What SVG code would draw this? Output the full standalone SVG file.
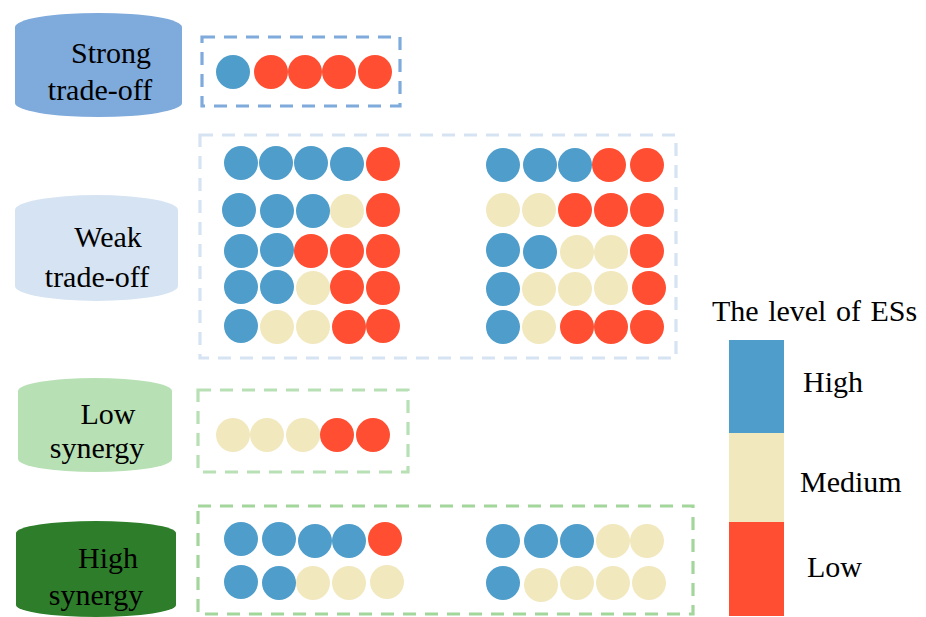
<svg xmlns="http://www.w3.org/2000/svg" width="926" height="617" viewBox="0 0 926 617">
<style>
.t{font-family:'Liberation Serif','Times New Roman',serif;font-size:30px;fill:#000}
.c{text-anchor:middle}
.b{fill:#4F9DCB}
.m{fill:#F2E8BE}
.r{fill:#FF4E31}
.box{fill:none;stroke-width:3.2;stroke-dasharray:13 9}
</style>
<rect width="926" height="617" fill="#fff"/>

<g id="strong-tradeoff">
<path d="M15,27 A83.5,14 0 0 1 182,27 L182,103 A83.5,14 0 0 1 15,103 Z" fill="#7FAADC"/>
<text class="t c" x="111" y="63">Strong</text>
<text class="t c" x="100" y="100">trade-off</text>
</g>
<g id="strong-group">
<rect class="box" x="202" y="37" width="198" height="69" stroke="#7FAADC"/>
<circle class="b" cx="233" cy="72" r="17"/>
<circle class="r" cx="271" cy="72" r="17"/>
<circle class="r" cx="305" cy="72" r="17"/>
<circle class="r" cx="339" cy="72" r="17"/>
<circle class="r" cx="375" cy="72" r="17"/>
</g>

<g id="weak-tradeoff">
<path d="M15,210 A81.5,15 0 0 1 178,210 L178,286 A81.5,15 0 0 1 15,286 Z" fill="#D5E3F2"/>
<text class="t c" x="108" y="247">Weak</text>
<text class="t c" x="97" y="287">trade-off</text>
</g>
<g id="weak-group">
<rect class="box" x="200" y="135" width="476" height="223" stroke="#D5E3F2"/>
<circle class="b" cx="241" cy="163" r="17"/><circle class="b" cx="276" cy="163" r="17"/><circle class="b" cx="311" cy="163" r="17"/><circle class="b" cx="347" cy="164" r="17"/><circle class="r" cx="383" cy="164" r="17"/>
<circle class="b" cx="239" cy="210" r="17"/><circle class="b" cx="277" cy="211" r="17"/><circle class="b" cx="313" cy="211" r="17"/><circle class="m" cx="347" cy="211" r="17"/><circle class="r" cx="383" cy="210" r="17"/>
<circle class="b" cx="241" cy="251" r="17"/><circle class="b" cx="277" cy="250" r="17"/><circle class="r" cx="311" cy="251" r="17"/><circle class="r" cx="347" cy="251" r="17"/><circle class="r" cx="383" cy="251" r="17"/>
<circle class="b" cx="241" cy="287" r="17"/><circle class="b" cx="277" cy="287" r="17"/><circle class="m" cx="313" cy="288" r="17"/><circle class="r" cx="347" cy="287" r="17"/><circle class="r" cx="383" cy="288" r="17"/>
<circle class="b" cx="241" cy="326" r="17"/><circle class="m" cx="277" cy="327" r="17"/><circle class="m" cx="313" cy="327" r="17"/><circle class="r" cx="349" cy="327" r="17"/><circle class="r" cx="383" cy="326" r="17"/>
<circle class="b" cx="503" cy="165" r="17"/><circle class="b" cx="540" cy="165" r="17"/><circle class="b" cx="575" cy="165" r="17"/><circle class="r" cx="609" cy="165" r="17"/><circle class="r" cx="647" cy="165" r="17"/>
<circle class="m" cx="503" cy="210" r="17"/><circle class="m" cx="539" cy="210" r="17"/><circle class="r" cx="575" cy="210" r="17"/><circle class="r" cx="611" cy="210" r="17"/><circle class="r" cx="647" cy="210" r="17"/>
<circle class="b" cx="503" cy="250" r="17"/><circle class="b" cx="540" cy="252" r="17"/><circle class="m" cx="577" cy="252" r="17"/><circle class="m" cx="611" cy="252" r="17"/><circle class="r" cx="647" cy="251" r="17"/>
<circle class="b" cx="503" cy="289" r="17"/><circle class="m" cx="539" cy="289" r="17"/><circle class="m" cx="575" cy="289" r="17"/><circle class="m" cx="611" cy="288" r="17"/><circle class="r" cx="649" cy="288" r="17"/>
<circle class="b" cx="503" cy="327" r="17"/><circle class="m" cx="539" cy="327" r="17"/><circle class="r" cx="577" cy="327" r="17"/><circle class="r" cx="611" cy="327" r="17"/><circle class="r" cx="647" cy="327" r="17"/>
</g>

<g id="low-synergy">
<path d="M18,391 A77,13 0 0 1 172,391 L172,459 A77,13 0 0 1 18,459 Z" fill="#B8E0B5"/>
<text class="t c" x="108" y="424">Low</text>
<text class="t c" x="97" y="458">synergy</text>
</g>
<g id="low-group">
<rect class="box" x="198" y="390" width="210" height="82" stroke="#B8E0B5"/>
<circle class="m" cx="233" cy="435" r="17"/>
<circle class="m" cx="267" cy="435" r="17"/>
<circle class="m" cx="303" cy="435" r="17"/>
<circle class="r" cx="337" cy="435" r="17"/>
<circle class="r" cx="373" cy="435" r="17"/>
</g>

<g id="high-synergy">
<path d="M16,533 A80,12 0 0 1 176,533 L176,605 A80,12 0 0 1 16,605 Z" fill="#2E7D2A"/>
<text class="t c" x="108" y="568">High</text>
<text class="t c" x="96" y="605">synergy</text>
</g>
<g id="high-group">
<rect class="box" x="198" y="506" width="495" height="108" stroke="#A3D69B"/>
<circle class="b" cx="241" cy="539" r="17"/><circle class="b" cx="279" cy="539" r="17"/><circle class="b" cx="315" cy="541" r="17"/><circle class="b" cx="349" cy="541" r="17"/><circle class="r" cx="385" cy="539" r="17"/>
<circle class="b" cx="241" cy="582" r="17"/><circle class="b" cx="279" cy="583" r="17"/><circle class="m" cx="313" cy="583" r="17"/><circle class="m" cx="349" cy="583" r="17"/><circle class="m" cx="387" cy="582" r="17"/>
<circle class="b" cx="503" cy="541" r="17"/><circle class="b" cx="541" cy="541" r="17"/><circle class="b" cx="577" cy="541" r="17"/><circle class="m" cx="613" cy="541" r="17"/><circle class="m" cx="647" cy="541" r="17"/>
<circle class="b" cx="503" cy="583" r="17"/><circle class="m" cx="541" cy="585" r="17"/><circle class="m" cx="577" cy="583" r="17"/><circle class="m" cx="613" cy="583" r="17"/><circle class="m" cx="649" cy="583" r="17"/>
</g>

<g id="legend">
<text class="t" x="712" y="321" word-spacing="2">The level of ESs</text>
<rect class="b" x="729" y="340" width="55" height="93"/>
<rect class="m" x="729" y="433" width="55" height="89"/>
<rect class="r" x="729" y="522" width="55" height="94"/>
<text class="t" x="803" y="392">High</text>
<text class="t" x="800" y="492">Medium</text>
<text class="t" x="807" y="577">Low</text>
</g>
</svg>
